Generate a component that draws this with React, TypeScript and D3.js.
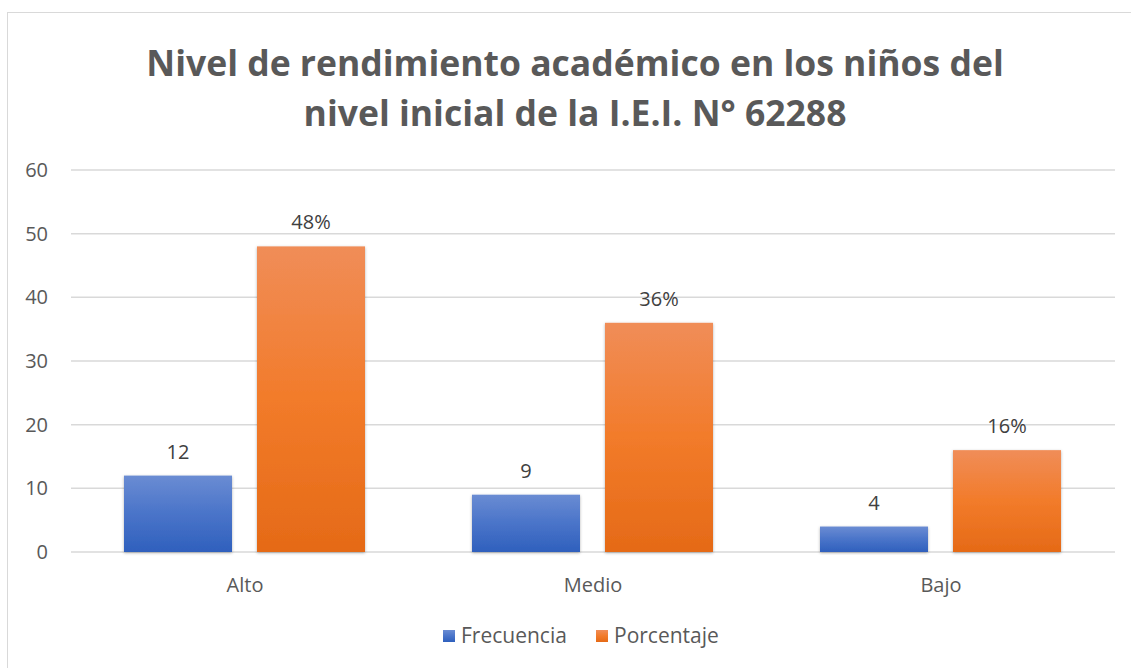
import React from 'react';
import * as d3 from 'd3';

const categories = ['Alto', 'Medio', 'Bajo'];
const frecuencia = [12, 9, 4];
const porcentaje = [48, 36, 16];
const seriesNames = ['Frecuencia', 'Porcentaje'];
const yTicks = [0, 10, 20, 30, 40, 50, 60];
const titleLines = ['Nivel de rendimiento académico en los niños del', 'nivel inicial de la I.E.I. N° 62288'];

const W = 1131;
const H = 668;
const m = { left: 71, right: 16, top: 170, bottom: 116 };
const FONT = '"Open Sans", "Noto Sans", sans-serif';
const TXT = '#595959';
const FS = 20;

const x = d3.scaleBand<string>().domain(categories).range([m.left, W - m.right]);
// bars sit 53px into each category band, 108px wide with a 25px gap
const inner = d3.scaleBand<string>().domain(seriesNames).range([53, 294]).paddingInner(25 / 133);
const y = d3.scaleLinear().domain([0, 60]).range([H - m.bottom, m.top]);

const rows = categories.map((c, i) => ({ cat: c, vals: [frecuencia[i], porcentaje[i]] }));
const labelFmt = [(v: number) => `${v}`, (v: number) => `${v}%`];

export default function App() {
  return (
    <svg width={W} height={H} style={{ position: 'absolute', left: 0, top: 0, background: '#fff' }}>
      <defs>
        <linearGradient id="g0" x1="0" y1="0" x2="0" y2="1">
          <stop offset="0" stopColor="#6a8cd3" />
          <stop offset="0.5" stopColor="#4a74c9" />
          <stop offset="1" stopColor="#2f60bd" />
        </linearGradient>
        <linearGradient id="g1" x1="0" y1="0" x2="0" y2="1">
          <stop offset="0" stopColor="#f08d58" />
          <stop offset="0.5" stopColor="#f27b2a" />
          <stop offset="1" stopColor="#e56a17" />
        </linearGradient>
        <filter id="sh" x="-10%" y="-10%" width="120%" height="120%">
          <feDropShadow dx="0" dy="1" stdDeviation="1.5" floodColor="#000" floodOpacity="0.3" />
        </filter>
      </defs>
      <rect x={7.5} y={12.5} width={W} height={H} fill="#fff" stroke="#d9d9d9" strokeWidth={1} />
      <g fontFamily={FONT} fill={TXT} fontWeight="bold" fontSize={35.5} textAnchor="middle">
        {titleLines.map((t, i) => (
          <text key={i} x={575} y={76 + i * 50}>{t}</text>
        ))}
      </g>
      {yTicks.map(t => (
        <g key={t}>
          <line x1={m.left} x2={W - m.right} y1={y(t)} y2={y(t)} stroke="#d9d9d9" strokeWidth={1.5} />
          <text x={48} y={y(t)} dy="0.35em" textAnchor="end" fontFamily={FONT} fontSize={FS} fill={TXT}>{t}</text>
        </g>
      ))}
      {rows.map(r => (
        <g key={r.cat} transform={`translate(${x(r.cat)},0)`}>
          {r.vals.map((v, j) => {
            const bx = inner(seriesNames[j])!;
            return (
              <g key={j}>
                <rect x={bx} y={y(v)} width={inner.bandwidth()} height={y(0) - y(v)} fill={`url(#g${j})`} filter="url(#sh)" />
                <text x={bx + inner.bandwidth() / 2} y={y(v) - 17} textAnchor="middle" fontFamily={FONT} fontSize={FS} fill="#404040">{labelFmt[j](v)}</text>
              </g>
            );
          })}
          <text x={x.bandwidth() / 2} y={H - m.bottom + 40} textAnchor="middle" fontFamily={FONT} fontSize={FS} fill={TXT}>{r.cat}</text>
        </g>
      ))}
      <g fontFamily={FONT} fontSize={21} fill={TXT}>
        {seriesNames.map((s, j) => {
          const lx = [443, 596][j];
          return (
            <g key={s}>
              <rect x={lx} y={630} width={12} height={12} fill={`url(#g${j})`} />
              <text x={lx + 18} y={636} dy="0.35em">{s}</text>
            </g>
          );
        })}
      </g>
    </svg>
  );
}
